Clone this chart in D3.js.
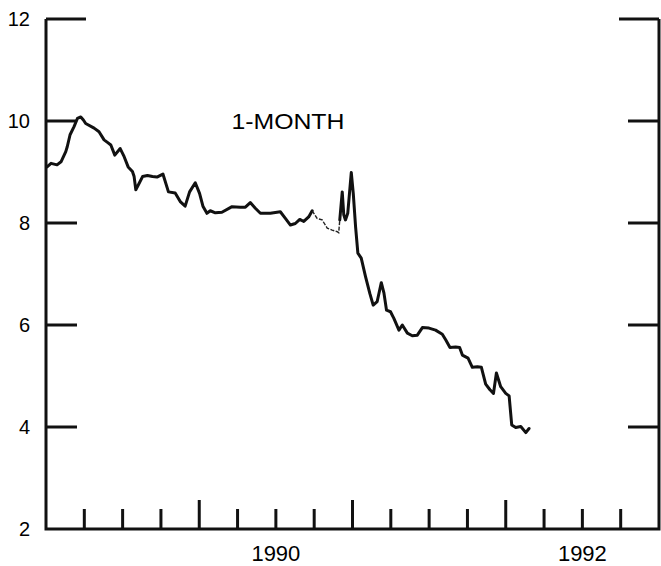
<!DOCTYPE html>
<html>
<head>
<meta charset="utf-8">
<script src="https://cdn.jsdelivr.net/npm/d3@7"></script>
<style>
  body { margin: 0; background: #fff; }
  svg { display: block; font-family: "Liberation Sans", Arial, sans-serif; }
</style>
</head>
<body>
<div id="chart"></div>
<script>
// decimal years and 1-month rates (percent)
const years = [
  1989.007, 1989.033, 1989.072, 1989.098, 1989.129, 1989.139, 1989.157, 1989.183, 1989.205, 1989.227,
  1989.244, 1989.259, 1989.314, 1989.346, 1989.379, 1989.401, 1989.423, 1989.449, 1989.484, 1989.510,
  1989.536, 1989.564, 1989.575, 1989.586, 1989.608, 1989.630, 1989.662, 1989.695, 1989.724, 1989.763,
  1989.799, 1989.843, 1989.876, 1989.908, 1989.937, 1989.974, 1990.002, 1990.024, 1990.050, 1990.072,
  1990.105, 1990.148, 1990.214, 1990.268, 1990.301, 1990.333, 1990.366, 1990.399, 1990.464, 1990.529,
  1990.562, 1990.595, 1990.627, 1990.656, 1990.682, 1990.714, 1990.737,
  1990.769, 1990.802, 1990.835, 1990.867, 1990.900, 1990.910,
  1990.917, 1990.933, 1990.943, 1990.954, 1990.969, 1990.992, 1991.005, 1991.020, 1991.035, 1991.057,
  1991.085, 1991.113, 1991.135, 1991.161, 1991.188, 1991.205, 1991.222, 1991.248, 1991.270, 1991.303,
  1991.325, 1991.358, 1991.390, 1991.423, 1991.456, 1991.499, 1991.542, 1991.586, 1991.608, 1991.636,
  1991.673, 1991.699, 1991.717, 1991.754, 1991.782, 1991.815, 1991.841, 1991.869, 1991.897, 1991.920,
  1991.939, 1991.967, 1992.000, 1992.022, 1992.039, 1992.065, 1992.098, 1992.131, 1992.152
];
const rates = [
  9.10, 9.17, 9.14, 9.20, 9.40, 9.50, 9.73, 9.89, 10.05, 10.08,
  10.02, 9.95, 9.86, 9.79, 9.63, 9.58, 9.53, 9.33, 9.46, 9.30,
  9.10, 9.01, 8.91, 8.65, 8.78, 8.91, 8.93, 8.91, 8.90, 8.96,
  8.61, 8.59, 8.42, 8.33, 8.61, 8.79, 8.58, 8.33, 8.19, 8.24,
  8.20, 8.21, 8.32, 8.31, 8.31, 8.40, 8.29, 8.19, 8.19, 8.22,
  8.09, 7.96, 7.99, 8.07, 8.03, 8.12, 8.24,
  8.09, 8.06, 7.90, 7.86, 7.83, 7.81,
  8.06, 8.61, 8.16, 8.06, 8.19, 8.99, 8.58, 7.93, 7.41, 7.31,
  6.95, 6.62, 6.39, 6.46, 6.83, 6.63, 6.29, 6.26, 6.13, 5.90,
  6.00, 5.84, 5.79, 5.80, 5.95, 5.94, 5.90, 5.82, 5.71, 5.56,
  5.57, 5.56, 5.41, 5.35, 5.17, 5.18, 5.17, 4.84, 4.73, 4.66,
  5.06, 4.79, 4.66, 4.61, 4.04, 3.99, 4.01, 3.89, 3.97
];
// stretch drawn as a thin broken line in the original
const thinFrom = 1990.737;
const thinTo = 1990.917;

const yTicks = [4, 6, 8, 10, 12];
const xTicks = [1989.25, 1989.5, 1989.75, 1990, 1990.25, 1990.5, 1990.75, 1991, 1991.25, 1991.5, 1991.75, 1992, 1992.25, 1992.5, 1992.75];
const xLabels = [1990, 1992];
const seriesLabel = "1-MONTH";

const width = 661, height = 566;
const frame = { left: 46, right: 659, top: 19, bottom: 529 };

const svg = d3.select("#chart").append("svg")
    .attr("width", width)
    .attr("height", height);

const x = d3.scaleLinear().domain([1989, 1993]).range([frame.left, frame.right]);
const y = d3.scaleLinear().domain([2, 12]).range([frame.bottom, frame.top]);

const data = years.map((yr, i) => ({ yr: yr, v: rates[i] }));

// frame: left, bottom, right
svg.append("path")
    .attr("d", `M${frame.left},${frame.top}V${frame.bottom}H${frame.right}V${frame.top}`)
    .attr("fill", "none")
    .attr("stroke", "#111")
    .attr("stroke-width", 3);

// y ticks pointing inward on both sides
yTicks.forEach(t => {
    const len = t === 12 ? 40 : 31;
    svg.append("line")
        .attr("x1", frame.left).attr("x2", frame.left + len)
        .attr("y1", y(t)).attr("y2", y(t))
        .attr("stroke", "#111").attr("stroke-width", 3);
    svg.append("line")
        .attr("x1", frame.right - len).attr("x2", frame.right)
        .attr("y1", y(t)).attr("y2", y(t))
        .attr("stroke", "#111").attr("stroke-width", 3);
});

svg.selectAll(".ylab")
    .data([2].concat(yTicks))
    .join("text")
    .attr("class", "ylab")
    .attr("x", 30)
    .attr("y", d => y(d) + 7)
    .attr("text-anchor", "end")
    .style("font-size", "20px")
    .text(d => d);

// x ticks pointing up, longer at year boundaries
svg.selectAll(".xtick")
    .data(xTicks)
    .join("line")
    .attr("class", "xtick")
    .attr("x1", d => x(d)).attr("x2", d => x(d))
    .attr("y1", frame.bottom)
    .attr("y2", d => Number.isInteger(d) ? frame.bottom - 29 : frame.bottom - 20)
    .attr("stroke", "#111")
    .attr("stroke-width", 3);

svg.selectAll(".xlab")
    .data(xLabels)
    .join("text")
    .attr("class", "xlab")
    .attr("x", d => x(d + 0.5))
    .attr("y", 561)
    .attr("text-anchor", "middle")
    .style("font-size", "22px")
    .text(d => d);

const line = d3.line()
    .x(d => x(d.yr))
    .y(d => y(d.v));

const before = data.filter(d => d.yr <= thinFrom);
const thin = data.filter(d => d.yr >= thinFrom && d.yr <= thinTo);
const after = data.filter(d => d.yr >= thinTo);

[before, after].forEach(seg => {
    svg.append("path")
        .datum(seg)
        .attr("d", line)
        .attr("fill", "none")
        .attr("stroke", "#111")
        .attr("stroke-width", 3)
        .attr("stroke-linejoin", "round")
        .attr("stroke-linecap", "round");
});

svg.append("path")
    .datum(thin)
    .attr("d", line)
    .attr("fill", "none")
    .attr("stroke", "#222")
    .attr("stroke-width", 1.4)
    .attr("stroke-dasharray", "4,1.5");

svg.append("text")
    .attr("x", x(1990.21))
    .attr("y", y(9.85))
    .attr("textLength", 113)
    .attr("lengthAdjust", "spacingAndGlyphs")
    .style("font-size", "22px")
    .text(seriesLabel);
</script>
</body>
</html>
